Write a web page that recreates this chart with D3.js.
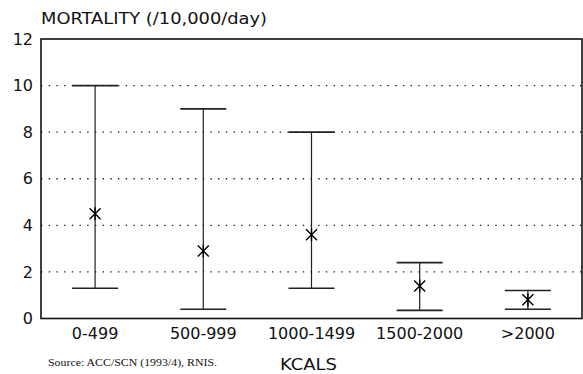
<!DOCTYPE html>
<html>
<head>
<meta charset="utf-8">
<script src="https://cdn.jsdelivr.net/npm/d3@7"></script>
<style>
  body { margin: 0; background: #fff; }
  svg { display: block; }
</style>
</head>
<body>
<div id="chart"></div>
<script>
// data
const categories = ["0-499", "500-999", "1000-1499", "1500-2000", ">2000"];
const highs = [10, 9, 8, 2.4, 1.2];
const lows = [1.3, 0.4, 1.3, 0.35, 0.4];
const mids = [4.5, 2.9, 3.6, 1.4, 0.8];
const yTicks = [0, 2, 4, 6, 8, 10, 12];

const W = 583, H = 374;
const plotLeft = 41, plotRight = 582, plotTop = 39, plotBottom = 318.5;
const sans = "'DejaVu Sans', Verdana, sans-serif";

const svg = d3.select("#chart").append("svg")
  .attr("width", W)
  .attr("height", H)
  .style("font-family", sans);

const x = d3.scaleBand()
  .domain(categories)
  .range([plotLeft, plotRight]);

const y = d3.scaleLinear()
  .domain([0, 12])
  .range([plotBottom, plotTop]);

// dotted grid lines
svg.append("g")
  .selectAll("line")
  .data(yTicks.filter(d => d > 0 && d < 12))
  .enter()
  .append("line")
  .attr("x1", plotLeft)
  .attr("x2", plotRight)
  .attr("y1", d => y(d))
  .attr("y2", d => y(d))
  .attr("stroke", "#222")
  .attr("stroke-width", 1.4)
  .attr("stroke-dasharray", "1.4,6.3");

// plot frame
svg.append("rect")
  .attr("x", plotLeft)
  .attr("y", plotTop)
  .attr("width", plotRight - plotLeft)
  .attr("height", plotBottom - plotTop)
  .attr("fill", "none")
  .attr("stroke", "#111")
  .attr("stroke-width", 1.6);

// y axis labels
const yAxis = svg.append("g")
  .attr("transform", "translate(" + plotLeft + ",0)")
  .call(d3.axisLeft(y).tickValues(yTicks).tickSize(0).tickPadding(8));
yAxis.select(".domain").remove();
yAxis.selectAll("text")
  .attr("font-size", 16)
  .attr("fill", "#111")
  .attr("font-family", sans);

// x axis labels
const xAxis = svg.append("g")
  .attr("transform", "translate(0," + plotBottom + ")")
  .call(d3.axisBottom(x).tickSize(0).tickPadding(9));
xAxis.select(".domain").remove();
xAxis.selectAll("text")
  .attr("font-size", 16)
  .attr("fill", "#111")
  .attr("font-family", sans);

// whiskers
const capHalf = 23;
const g = svg.append("g")
  .attr("stroke", "#222")
  .attr("stroke-width", 1.2)
  .attr("fill", "none");

categories.forEach((c, i) => {
  const cx = x(c) + x.bandwidth() / 2;
  g.append("line")
    .attr("x1", cx).attr("x2", cx)
    .attr("y1", y(highs[i])).attr("y2", y(lows[i]));
  g.append("line")
    .attr("x1", cx - capHalf).attr("x2", cx + capHalf)
    .attr("y1", y(highs[i])).attr("y2", y(highs[i]))
    .attr("stroke-width", 1.6);
  g.append("line")
    .attr("x1", cx - capHalf).attr("x2", cx + capHalf)
    .attr("y1", y(lows[i])).attr("y2", y(lows[i]))
    .attr("stroke-width", 1.6);

  // asterisk marker
  const cy = y(mids[i]);
  const r = 5.5;
  g.append("path")
    .attr("d", "M" + (cx - r) + "," + (cy - r) + "L" + (cx + r) + "," + (cy + r) +
      "M" + (cx + r) + "," + (cy - r) + "L" + (cx - r) + "," + (cy + r) +
      "M" + cx + "," + (cy - r - 1) + "L" + cx + "," + (cy + r + 1))
    .attr("stroke", "#000")
    .attr("stroke-width", 1.4);
});

// titles
svg.append("text")
  .attr("x", 41)
  .attr("y", 24)
  .attr("font-size", 16)
  .attr("fill", "#111")
  .attr("textLength", 226)
  .attr("lengthAdjust", "spacingAndGlyphs")
  .text("MORTALITY (/10,000/day)");

svg.append("text")
  .attr("x", 280)
  .attr("y", 370)
  .attr("font-size", 16)
  .attr("fill", "#111")
  .attr("textLength", 57)
  .attr("lengthAdjust", "spacingAndGlyphs")
  .text("KCALS");

svg.append("text")
  .attr("x", 48)
  .attr("y", 366)
  .attr("font-size", 11)
  .attr("font-family", "'Liberation Serif', 'Times New Roman', serif")
  .attr("fill", "#111")
  .attr("textLength", 169)
  .attr("lengthAdjust", "spacingAndGlyphs")
  .text("Source: ACC/SCN (1993/4), RNIS.");
</script>
</body>
</html>
